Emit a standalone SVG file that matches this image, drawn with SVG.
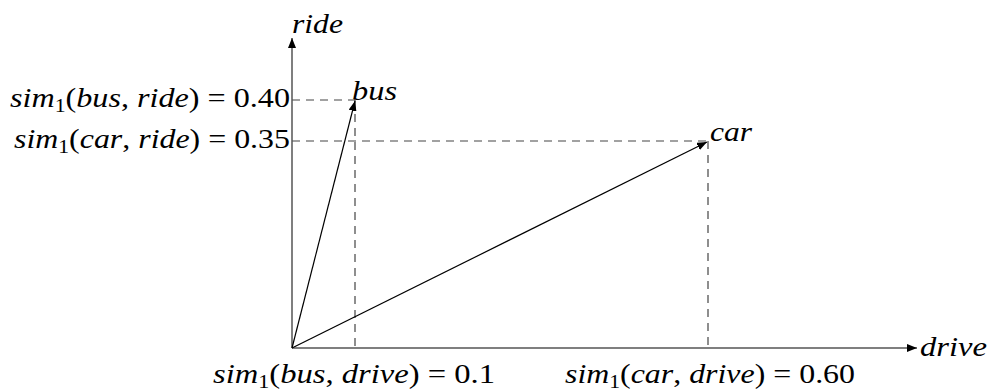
<svg xmlns="http://www.w3.org/2000/svg" width="990" height="392" viewBox="0 0 990 392" font-family="'Liberation Serif', 'Times New Roman', serif">
<style>
.t{font-family:'Liberation Serif','Times New Roman',serif;font-size:28px;fill:#000}
.i{font-style:italic}
.s{font-size:19px}
.axis{stroke:#555;stroke-width:1.5;fill:none}
.vec{stroke:#000;stroke-width:1.2;fill:none}
.dash{stroke:#444;stroke-width:1.2;stroke-dasharray:8 6;fill:none}
</style>
<defs>
<marker id="ah" viewBox="0 0 10 8" refX="10" refY="4" markerWidth="10" markerHeight="8" markerUnits="userSpaceOnUse" orient="auto">
<path d="M0,0 L10,4 L0,8 z" fill="#000"/>
</marker>
</defs>
<g id="connectors">
<line class="dash" x1="292" y1="100" x2="355" y2="100"/>
<line class="dash" x1="355" y1="100" x2="355" y2="348"/>
<line class="dash" x1="292" y1="141" x2="708" y2="141"/>
<line class="dash" x1="708" y1="141" x2="708" y2="348"/>
<line class="axis" x1="292" y1="348" x2="292" y2="38" marker-end="url(#ah)"/>
<line class="axis" x1="292" y1="348" x2="917" y2="348" marker-end="url(#ah)"/>
<line class="vec" x1="292" y1="348" x2="355" y2="101" marker-end="url(#ah)"/>
<line class="vec" x1="292" y1="348" x2="707" y2="142" marker-end="url(#ah)"/>
</g>
<g id="axis-ride"><text class="t i" font-family="Liberation Serif" x="292" y="33" textLength="51" lengthAdjust="spacingAndGlyphs">ride</text></g>
<g id="axis-drive"><text class="t i" font-family="Liberation Serif" x="920" y="356" textLength="67" lengthAdjust="spacingAndGlyphs">drive</text></g>
<g id="vec-bus"><text class="t i" font-family="Liberation Serif" x="352" y="100" textLength="45" lengthAdjust="spacingAndGlyphs">bus</text></g>
<g id="vec-car"><text class="t i" font-family="Liberation Serif" x="710" y="141" textLength="42" lengthAdjust="spacingAndGlyphs">car</text></g>
<g id="tick-bus-ride"><text class="t" font-family="Liberation Serif" x="10" y="107" textLength="280" lengthAdjust="spacingAndGlyphs"><tspan class="i">sim</tspan><tspan class="s" dy="5">1</tspan><tspan dy="-5">(</tspan><tspan class="i">bus</tspan>, <tspan class="i">ride</tspan>) = 0.40</text></g>
<g id="tick-car-ride"><text class="t" font-family="Liberation Serif" x="14" y="148" textLength="276" lengthAdjust="spacingAndGlyphs"><tspan class="i">sim</tspan><tspan class="s" dy="5">1</tspan><tspan dy="-5">(</tspan><tspan class="i">car</tspan>, <tspan class="i">ride</tspan>) = 0.35</text></g>
<g id="tick-bus-drive"><text class="t" font-family="Liberation Serif" x="213" y="383" textLength="282" lengthAdjust="spacingAndGlyphs"><tspan class="i">sim</tspan><tspan class="s" dy="5">1</tspan><tspan dy="-5">(</tspan><tspan class="i">bus</tspan>, <tspan class="i">drive</tspan>) = 0.1</text></g>
<g id="tick-car-drive"><text class="t" font-family="Liberation Serif" x="565" y="383" textLength="290" lengthAdjust="spacingAndGlyphs"><tspan class="i">sim</tspan><tspan class="s" dy="5">1</tspan><tspan dy="-5">(</tspan><tspan class="i">car</tspan>, <tspan class="i">drive</tspan>) = 0.60</text></g>
</svg>
